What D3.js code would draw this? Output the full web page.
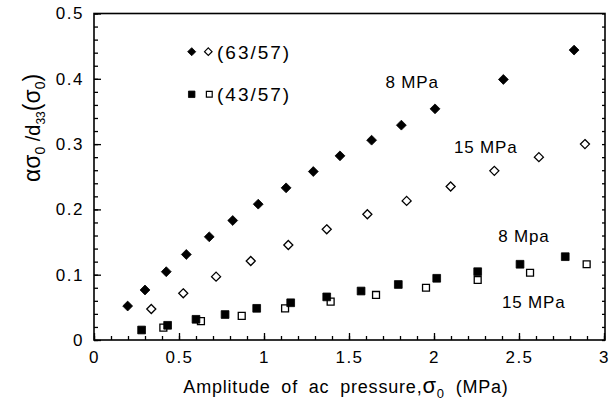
<!DOCTYPE html>
<html>
<head>
<meta charset="utf-8">
<script src="https://cdn.jsdelivr.net/npm/d3@7"></script>
<style>
  html, body { margin: 0; padding: 0; background: #fff; }
  svg { display: block; }
  text { font-family: "Liberation Sans", Arial, Helvetica, sans-serif; fill: #000; }
</style>
</head>
<body>
<div id="chart"></div>
<script>
// ---- data ----
const x6357_8 = [0.198, 0.300, 0.425, 0.543, 0.678, 0.816, 0.966, 1.13, 1.29, 1.447, 1.633, 1.808, 2.006, 2.408, 2.824];
const y6357_8 = [0.052, 0.0766, 0.1046, 0.131, 0.158, 0.183, 0.208, 0.233, 0.258, 0.282, 0.306, 0.329, 0.354, 0.399, 0.444];

const x6357_15 = [0.337, 0.525, 0.718, 0.922, 1.143, 1.369, 1.608, 1.839, 2.098, 2.355, 2.617, 2.888];
const y6357_15 = [0.0475, 0.0715, 0.097, 0.121, 0.1455, 0.1695, 0.1925, 0.213, 0.235, 0.259, 0.280, 0.300];

const x4357_8 = [0.28, 0.433, 0.60, 0.771, 0.957, 1.157, 1.369, 1.571, 1.79, 2.016, 2.257, 2.506, 2.772];
const y4357_8 = [0.0153, 0.0225, 0.0317, 0.039, 0.0485, 0.057, 0.066, 0.075, 0.085, 0.0945, 0.1046, 0.116, 0.1276];

const x4357_15 = [0.408, 0.629, 0.869, 1.124, 1.392, 1.659, 1.953, 2.257, 2.565, 2.898];
const y4357_15 = [0.019, 0.029, 0.037, 0.0485, 0.0587, 0.069, 0.080, 0.0919, 0.103, 0.116];

const xTicks = [0, 0.5, 1, 1.5, 2, 2.5, 3];
const xTickLabels = ["0", "0.5", "1", "1.5", "2", "2.5", "3"];
const yTicks = [0, 0.1, 0.2, 0.3, 0.4, 0.5];
const yTickLabels = ["0", "0.1", "0.2", "0.3", "0.4", "0.5"];
const xMinor = d3.range(0, 31).map(i => i / 10);
const yMinor = d3.range(0, 26).map(i => i / 50);

const legendLabels = ["(63/57)", "(43/57)"];
const annotations = [
  { text: "8 MPa", x: 1.715, y: 0.395 },
  { text: "15 MPa", x: 2.118, y: 0.295 },
  { text: "8 Mpa", x: 2.378, y: 0.160 },
  { text: "15 MPa", x: 2.4, y: 0.059 }
];

// ---- setup ----
const W = 609, H = 410;
const svg = d3.select("#chart").append("svg").attr("width", W).attr("height", H);
const x = d3.scaleLinear().domain([0, 3]).range([94, 604]);
const y = d3.scaleLinear().domain([0, 0.5]).range([340, 13.5]);
const zip = (xs, ys) => xs.map((v, i) => [v, ys[i]]);

// frame
svg.append("rect").attr("x", 94).attr("y", 13.5).attr("width", 511).attr("height", 326.5)
  .attr("fill", "none").attr("stroke", "#000").attr("stroke-width", 1.6);

// axes
const fmtX = d => xTickLabels[xTicks.indexOf(d)];
const fmtY = d => yTickLabels[yTicks.indexOf(d)];

function styleAxis(g) {
  g.select(".domain").remove();
  g.selectAll("line").attr("stroke", "#000").attr("stroke-width", 1.3);
  g.selectAll("text").attr("font-size", 17).attr("letter-spacing", 1.5)
    .attr("font-family", '"Liberation Sans", Arial, sans-serif').attr("fill", "#000");
}

svg.append("g").attr("transform", "translate(0,340)")
  .call(d3.axisBottom(x).tickValues(xMinor).tickSize(-4).tickFormat(""))
  .call(styleAxis);
svg.append("g").attr("transform", "translate(0,340)")
  .call(d3.axisBottom(x).tickValues(xTicks).tickSize(-7).tickPadding(11).tickFormat(fmtX))
  .call(styleAxis);

svg.append("g").attr("transform", "translate(94,0)")
  .call(d3.axisLeft(y).tickValues(yMinor).tickSize(-4).tickFormat(""))
  .call(styleAxis);
svg.append("g").attr("transform", "translate(94,0)")
  .call(d3.axisLeft(y).tickValues(yTicks).tickSize(-7).tickPadding(10).tickFormat(fmtY))
  .call(styleAxis);

svg.append("g").attr("transform", "translate(605,0)")
  .call(d3.axisRight(y).tickValues(yMinor).tickSize(-3).tickFormat(""))
  .call(styleAxis);

// markers
function drawSeries(data, type, size, filled) {
  svg.append("g").selectAll("path").data(data).join("path")
    .attr("transform", d => `translate(${x(d[0])},${y(d[1])})`)
    .attr("d", d3.symbol().type(type).size(size)())
    .attr("fill", filled ? "#000" : "#fff")
    .attr("stroke", "#000")
    .attr("stroke-width", filled ? 0.8 : 1.3);
}
drawSeries(zip(x6357_15, y6357_15), d3.symbolDiamond2, 52, false);
drawSeries(zip(x6357_8, y6357_8), d3.symbolDiamond2, 62, true);
drawSeries(zip(x4357_15, y4357_15), d3.symbolSquare, 48, false);
drawSeries(zip(x4357_8, y4357_8), d3.symbolSquare, 60, true);

// legend
const lg = svg.append("g");
function legendMarker(px, py, type, size, filled) {
  lg.append("path").attr("transform", `translate(${px},${py})`)
    .attr("d", d3.symbol().type(type).size(size)())
    .attr("fill", filled ? "#000" : "#fff").attr("stroke", "#000")
    .attr("stroke-width", filled ? 0.8 : 1.2);
}
legendMarker(191.7, 51.7, d3.symbolDiamond2, 42, true);
legendMarker(208.3, 51.7, d3.symbolDiamond2, 36, false);
legendMarker(191.7, 94.3, d3.symbolSquare, 42, true);
legendMarker(209.3, 94.3, d3.symbolSquare, 34, false);
lg.selectAll("text").data(legendLabels).join("text")
  .attr("x", 217).attr("y", (d, i) => [51.7, 94.3][i])
  .attr("dy", "0.36em").attr("font-size", 19).attr("letter-spacing", 2).text(d => d);

// annotations
svg.append("g").selectAll("text").data(annotations).join("text")
  .attr("x", d => x(d.x)).attr("y", d => y(d.y)).attr("dy", "0.36em")
  .attr("font-size", 17).attr("letter-spacing", 0.8).text(d => d.text);

// axis titles
const xt = svg.append("text").attr("x", 346).attr("y", 393).attr("text-anchor", "middle")
  .attr("font-size", 18).attr("letter-spacing", 0.8).attr("word-spacing", 5);
xt.append("tspan").text("Amplitude of ac pressure,");
xt.append("tspan").attr("font-size", 22).text("σ");
xt.append("tspan").attr("font-size", 13).attr("dy", 5).text("0");
xt.append("tspan").attr("dy", -5).text(" (MPa)");

const yt = svg.append("text").attr("transform", "translate(40,128) rotate(-90)")
  .attr("text-anchor", "middle").attr("font-size", 23);
yt.append("tspan").text("ασ");
yt.append("tspan").attr("font-size", 14).attr("dy", 5).text("0");
yt.append("tspan").attr("dy", -5).attr("font-size", 20).text(" /d");
yt.append("tspan").attr("font-size", 12).attr("dy", 5).text("33");
yt.append("tspan").attr("dy", -5).text("(σ");
yt.append("tspan").attr("font-size", 14).attr("dy", 5).text("0");
yt.append("tspan").attr("dy", -5).text(")");
</script>
</body>
</html>
